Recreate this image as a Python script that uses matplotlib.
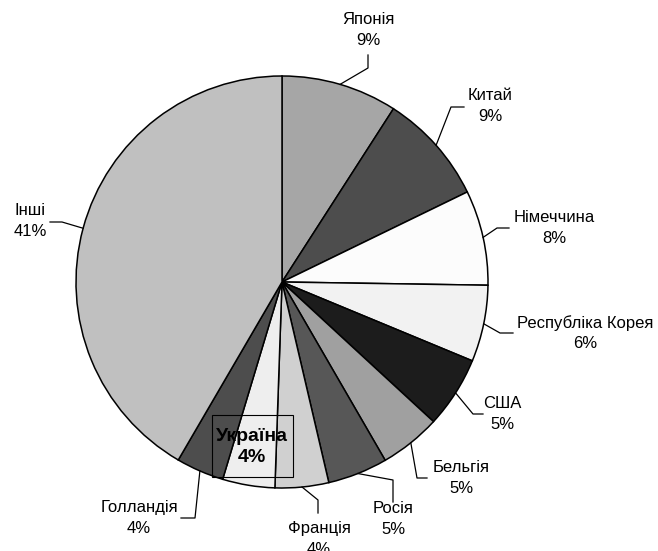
import matplotlib
matplotlib.use('Agg')
import matplotlib.pyplot as plt
from matplotlib.patches import Rectangle
import numpy as np

# дані (частки, %)
countries = ['Японія', 'Китай', 'Німеччина', 'Республіка Корея', 'США', 'Бельгія',
             'Росія', 'Франція', 'Україна', 'Голландія', 'Інші']
shares = [9.1, 8.7, 7.45, 6.0, 5.6, 4.8, 4.7, 4.2, 4.1, 3.75, 41.6]
pct_labels = ['9%', '9%', '8%', '6%', '5%', '5%', '5%', '4%', '4%', '4%', '41%']
colors = ['#a6a6a6', '#4d4d4d', '#fcfcfc', '#f2f2f2', '#1c1c1c', '#a0a0a0',
          '#575757', '#d0d0d0', '#eeeeee', '#4d4d4d', '#c0c0c0']

W, H = 658, 551
plt.rcParams['font.family'] = ['Liberation Sans', 'DejaVu Sans']

fig = plt.figure(figsize=(W / 100, H / 100), dpi=100)
ax = fig.add_axes([0, 0, 1, 1])

cx, cy, r = 282, H - 282, 206

wedges, _ = ax.pie(shares, colors=colors, startangle=90, counterclock=False,
                   center=(cx, cy), radius=r, frame=True,
                   wedgeprops=dict(edgecolor='black', linewidth=1.1))
ax.set_xlim(0, W)
ax.set_ylim(0, H)
ax.set_aspect('equal')
ax.axis('off')

# позиції підписів (x, y у пікселях зверху) і точки зламу ліній
label_pos = [(368, 30), (490, 106), (554, 228), (585, 333), (502, 414), (461, 478),
             (393, 519), (319, 539), (252, 447), (139, 518), (30, 221)]
elbows = [[(368, 55), (368, 68)],
          [(464, 107), (451, 107)],
          [(509, 228), (497, 228)],
          [(513, 333), (500, 333)],
          [(483, 414), (473, 414)],
          [(427, 478), (417, 478)],
          [(393, 502), (393, 480)],
          [(318, 513), (318, 500)],
          None,
          [(181, 518), (195, 518)],
          [(50, 222), (62, 222)]]

for i, w in enumerate(wedges):
    mid = np.deg2rad((w.theta1 + w.theta2) / 2)
    ex, ey = cx + r * np.cos(mid), cy + r * np.sin(mid)
    lx, ly = label_pos[i]
    if countries[i] == 'Україна':
        ax.add_patch(Rectangle((212, H - 477), 81, 62, facecolor='none',
                               edgecolor='black', linewidth=0.8, zorder=5))
        ax.text(lx, H - ly, countries[i] + '\n' + pct_labels[i], ha='center', va='center',
                fontsize=14, fontweight='bold', linespacing=1.35, zorder=6)
        continue
    ax.text(lx, H - ly, countries[i] + '\n' + pct_labels[i], ha='center', va='center',
            fontsize=12, linespacing=1.45)
    pts = elbows[i]
    xs = [p[0] for p in pts] + [ex]
    ys = [H - p[1] for p in pts] + [ey]
    ax.plot(xs, ys, color='black', linewidth=0.9)

fig.savefig('out.png', dpi=100)
